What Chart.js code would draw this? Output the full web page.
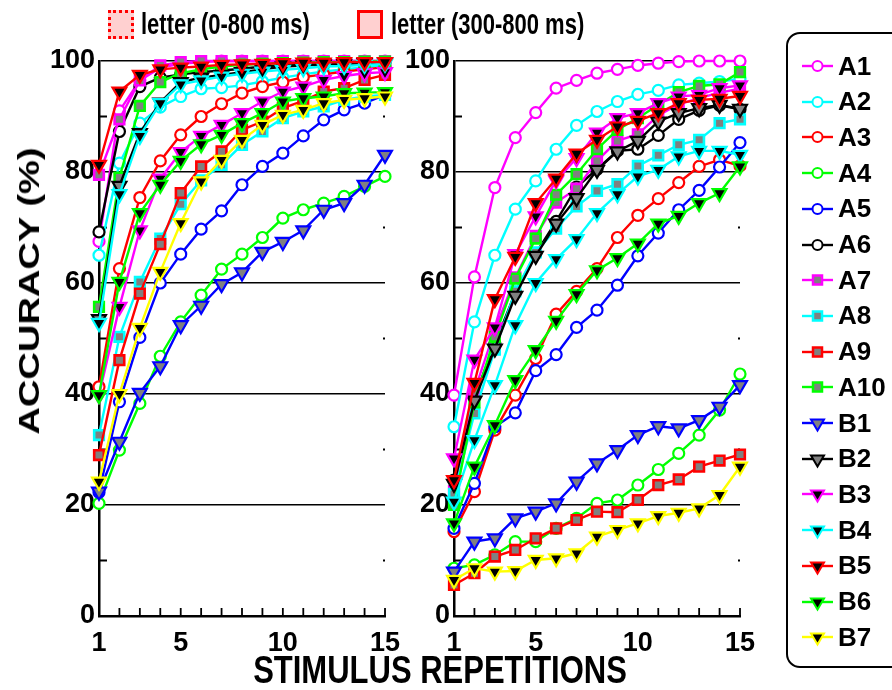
<!DOCTYPE html>
<html>
<head>
<meta charset="utf-8">
<script src="https://cdn.jsdelivr.net/npm/chart.js@4.4.0/dist/chart.umd.min.js"></script>
<style>
body { margin: 0; width: 892px; height: 690px; overflow: hidden; background: #fff; position: relative;
       font-family: "Liberation Sans", Arial, sans-serif; font-weight: bold; color: #000; }
canvas { position: absolute; top: 0; }
#cFull { left: 0; }
#cLate { left: 400px; }
.txt { position: absolute; white-space: nowrap; }
.key { position: absolute; top: 10px; width: 20px; height: 23px; background: #ffd0d0; border: 3px solid #f00; }
.keytxt { top: 10px; font-size: 22px; line-height: 30px; transform: scaleY(1.3); transform-origin: left center; }
#legend { position: absolute; left: 786px; top: 32px; width: 140px; height: 632px; border: 2px solid #000; border-radius: 14px; }
.row { position: absolute; left: 802px; height: 32px; display: flex; align-items: center; font-size: 26px; }
.row svg { margin-right: 5px; }
</style>
</head>
<body>
<canvas id="cFull" width="420" height="690"></canvas>
<canvas id="cLate" width="400" height="690"></canvas>

<div class="key" style="left:108px;border-style:dotted"></div>
<div class="txt keytxt" style="left:141px">letter (0-800 ms)</div>
<div class="key" style="left:357px"></div>
<div class="txt keytxt" style="left:391px">letter (300-800 ms)</div>

<div class="txt" style="left:29px;top:291px;font-size:30px;transform:translate(-50%,-50%) rotate(-90deg) scaleX(1.27)">ACCURACY (%)</div>
<div class="txt" style="left:440px;top:670px;font-size:31px;transform:translate(-50%,-50%) scaleY(1.25)">STIMULUS REPETITIONS</div>

<div id="legend"></div>

<script>
// number of stimulus repetitions
const reps = [1, 2, 3, 4, 5, 6, 7, 8, 9, 10, 11, 12, 13, 14, 15];
const xTicks = [1, 5, 10, 15];
const yTicks = [0, 20, 40, 60, 80, 100];
const yMinor = [10, 30, 50, 70, 90];

// accuracy (%), letter 0-800 ms window
const full_A1  = [67.5, 91, 96.5, 98.8, 99.5, 99.8, 100, 100, 100, 100, 100, 100, 100, 100, 100];
const full_A2  = [65, 81.6, 88.8, 91.7, 93.6, 95, 95.2, 95.6, 96.3, 97, 97.6, 98.1, 98.5, 98.9, 99.2];
const full_A3  = [41.3, 62.6, 75.4, 82, 86.7, 90, 92.3, 94.2, 95.4, 96.2, 97.1, 97.6, 98.1, 98.5, 98.9];
const full_A4  = [20.3, 29.9, 38.3, 46.8, 53, 57.8, 62.5, 65.2, 68.2, 71.7, 73.2, 74.4, 75.6, 77.4, 79.2];
const full_A5  = [22.3, 38.6, 50.2, 60, 65.2, 69.7, 73, 77.7, 81, 83.4, 86.5, 89.4, 91.2, 92.4, 93.9];
const full_A6  = [69.2, 87.3, 95.4, 97, 97.6, 98, 98.3, 98.6, 99, 99.2, 99.4, 99.5, 99.6, 99.7, 99.8];
const full_A7  = [79.5, 89.5, 96.5, 99.2, 99.8, 100, 100, 100, 100, 100, 100, 100, 100, 100, 100];
const full_A8  = [32.6, 50.3, 60.2, 68, 74.2, 78.5, 81.3, 84.9, 87.3, 89.7, 90.9, 91.8, 93, 93.6, 93.9];
const full_A9  = [29, 46.1, 58.1, 67, 76.2, 81, 83.7, 87.6, 89.1, 91.5, 92.8, 94.5, 95.1, 96.6, 97.5];
const full_A10 = [55.7, 79, 91.9, 96.2, 97.8, 98.5, 99, 99.3, 99.5, 99.6, 99.7, 99.8, 99.8, 99.9, 99.9];
const full_B1  = [22.4, 31.4, 40.2, 45, 52.4, 55.9, 59.8, 61.9, 65.6, 67.4, 69.5, 73.2, 74.4, 77.7, 83.1];
const full_B2  = [53.5, 77.5, 87, 92.5, 96.2, 97, 97.5, 98, 98.5, 99, 99.2, 99.4, 99.5, 99.6, 99.7];
const full_B3  = [39.8, 55.7, 69.5, 78.8, 83.6, 86.5, 88.5, 90.6, 92.7, 94.5, 95.4, 96.6, 97.3, 97.8, 98];
const full_B4  = [52.8, 76, 86.5, 92.4, 95.8, 96.5, 97.2, 97.7, 98.1, 98.4, 98.7, 99, 99.1, 99.3, 99.5];
const full_B5  = [81.3, 94.5, 97.5, 98.5, 98.8, 99, 99.3, 99.4, 99.5, 99.6, 99.7, 99.7, 99.8, 99.8, 99.8];
const full_B6  = [39.8, 60.2, 72.6, 77.7, 82, 85, 86.7, 88.8, 90.6, 92.7, 93.3, 93.6, 94.2, 94.3, 94.4];
const full_B7  = [24.2, 40, 51.9, 62, 70.8, 78.3, 82.2, 85.8, 88.5, 90.3, 91.2, 92.4, 93, 93.3, 93.6];

// accuracy (%), letter 300-800 ms window
const late_A1  = [39.8, 61.1, 77.2, 86.2, 90.7, 95.1, 96.5, 97.8, 98.5, 99.2, 99.6, 99.9, 100, 100, 100];
const late_A2  = [34.1, 53, 65, 73.3, 78.4, 84.1, 88.4, 90.9, 92.7, 94, 94.7, 95.7, 96, 96.3, 96.8];
const late_A3  = [15.2, 22.4, 33.5, 39.8, 46.4, 54.4, 58.5, 62.6, 68.2, 72.2, 75.2, 78.1, 81, 82.2, 81.1];
const late_A4  = [8.6, 9.2, 11, 13.4, 13.4, 15.8, 17.6, 20.3, 20.9, 23.6, 26.4, 29.3, 32.6, 37.1, 43.6];
const late_A5  = [15.8, 23.9, 34.1, 36.6, 44.2, 47.1, 52, 55.1, 59.6, 64.9, 69, 73.2, 76.7, 80.9, 85.3];
const late_A6  = [24.5, 39.5, 49, 58.3, 65.3, 71.1, 77.3, 80.5, 83.8, 84.1, 86.6, 89.5, 91.1, 92, 91.3];
const late_A7  = [22.5, 40.5, 51.5, 61, 68.5, 74.5, 77, 82, 85.6, 86.8, 90.2, 92.2, 93.3, 94.3, 95];
const late_A8  = [22, 36.5, 48, 58.5, 65.5, 69.8, 73.8, 76.6, 77.8, 81.1, 83, 84.9, 85.8, 88.8, 89.5];
const late_A9  = [5.6, 7.7, 10.7, 11.9, 14, 15.8, 17.3, 18.8, 18.7, 20.9, 23.6, 24.6, 26.9, 28, 29.1];
const late_A10 = [20, 38.5, 50.3, 60.8, 68, 75.9, 79.6, 84.1, 87.6, 89.7, 92.1, 94.4, 95.5, 95.8, 98];
const late_B1  = [8, 13.4, 14, 17.6, 18.8, 20.3, 24.2, 27.5, 29.9, 32.6, 34.2, 33.8, 35.3, 37.7, 41.6];
const late_B2  = [23.8, 38.8, 48.2, 57.7, 64.9, 70.7, 75.3, 80.4, 83.7, 85.6, 89.1, 90.6, 91.5, 92.1, 91.4];
const late_B3  = [28.4, 46.2, 52, 65.2, 72, 78.5, 82.5, 87.1, 89.7, 90.6, 92.4, 93.6, 93.9, 95.1, 95.6];
const late_B4  = [20.6, 31.7, 41.6, 52.4, 60, 64.3, 67.9, 72.6, 76, 79.2, 80.4, 82.8, 83.8, 83.8, 83.1];
const late_B5  = [24.5, 42, 57.1, 64.7, 74.4, 78.8, 83.3, 85.8, 88.2, 89.2, 90.6, 92.4, 93, 93.2, 93.7];
const late_B6  = [16.7, 26.9, 34.4, 42.5, 47.9, 53.2, 58, 62.3, 64.5, 67.1, 70.7, 72.1, 74.4, 76.2, 81];
const late_B7  = [6.5, 8.6, 8, 8.1, 10.1, 10.4, 11.3, 14.3, 15.5, 16.7, 18, 18.6, 19.4, 21.8, 26.9];

const subjects = ['A1', 'A2', 'A3', 'A4', 'A5', 'A6', 'A7', 'A8', 'A9', 'A10',
                  'B1', 'B2', 'B3', 'B4', 'B5', 'B6', 'B7'];
const fullData = [full_A1, full_A2, full_A3, full_A4, full_A5, full_A6, full_A7, full_A8, full_A9, full_A10,
                  full_B1, full_B2, full_B3, full_B4, full_B5, full_B6, full_B7];
const lateData = [late_A1, late_A2, late_A3, late_A4, late_A5, late_A6, late_A7, late_A8, late_A9, late_A10,
                  late_B1, late_B2, late_B3, late_B4, late_B5, late_B6, late_B7];

// line colour, marker shape, marker fill per subject
const colors = ['#ff00ff', '#00ffff', '#ff0000', '#00ff00', '#0000ff', '#000000', '#ff00ff', '#00ffff', '#ff0000', '#00ff00',
                '#0000ff', '#000000', '#ff00ff', '#00ffff', '#ff0000', '#00ff00', '#ffff00'];
const shapes = ['circle', 'circle', 'circle', 'circle', 'circle', 'circle', 'rect', 'rect', 'rect', 'rect',
                'triangle', 'triangle', 'triangle', 'triangle', 'triangle', 'triangle', 'triangle'];
const fills = ['#fff', '#fff', '#fff', '#fff', '#fff', '#fff', '#808080', '#808080', '#808080', '#808080',
               '#808080', '#808080', '#000', '#000', '#000', '#000', '#000'];

const FONT = '"Liberation Sans", Arial, sans-serif';

const inwardTicks = {
    id: 'inwardTicks',
    beforeDatasetsDraw(chart) {
        const {ctx, chartArea: a, scales: {x, y}} = chart;
        ctx.save();
        ctx.strokeStyle = '#000';
        ctx.lineWidth = 1.8;
        ctx.beginPath();
        reps.forEach(r => {
            const px = x.getPixelForValue(r);
            ctx.moveTo(px, a.bottom);
            ctx.lineTo(px, a.bottom - 8);
        });
        yMinor.forEach(v => {
            const py = y.getPixelForValue(v);
            ctx.moveTo(a.left, py);
            ctx.lineTo(a.left + 8, py);
            ctx.moveTo(a.right, py);
            ctx.lineTo(a.right - 2, py);
        });
        ctx.stroke();
        ctx.restore();
    }
};

function pointSize(shape) {
    if (shape === 'circle') return 5.5;
    if (shape === 'rect') return 6.8;
    return 8;
}

function buildChart(id, values, axisWidth, padRight) {
    const datasets = subjects.map((name, i) => ({
        label: name,
        data: reps.map((r, k) => ({x: r, y: values[i][k]})),
        borderColor: colors[i],
        borderWidth: 2.4,
        pointStyle: shapes[i],
        pointRotation: shapes[i] === 'triangle' ? 180 : 0,
        pointRadius: pointSize(shapes[i]),
        pointBorderWidth: shapes[i] === 'rect' ? 2.6 : 2.2,
        pointBorderColor: colors[i],
        pointBackgroundColor: fills[i],
        tension: 0,
        fill: false,
        clip: false,
        order: subjects.length - i
    }));
    return new Chart(document.getElementById(id), {
        type: 'line',
        data: {datasets},
        plugins: [inwardTicks],
        options: {
            responsive: false,
            animation: false,
            devicePixelRatio: 1,
            layout: {padding: {top: 61, right: padRight, left: 0, bottom: 0}},
            plugins: {legend: {display: false}, tooltip: {enabled: false}},
            scales: {
                x: {
                    type: 'linear', min: 1, max: 15,
                    afterBuildTicks: s => { s.ticks = xTicks.map(v => ({value: v})); },
                    afterFit: s => { s.height = 74; },
                    grid: {display: false, drawTicks: false},
                    border: {display: true, color: '#000', width: 2.5},
                    ticks: {color: '#000', font: {family: FONT, size: 27, weight: 'bold'}, padding: 11,
                            maxRotation: 0, autoSkip: false}
                },
                y: {
                    min: 0, max: 100,
                    afterBuildTicks: s => { s.ticks = yTicks.map(v => ({value: v})); },
                    afterFit: s => { s.width = axisWidth; },
                    grid: {color: c => (c.tick && c.tick.value > 0) ? '#000' : 'rgba(0,0,0,0)', lineWidth: 1.5, drawTicks: false},
                    border: {display: true, color: '#000', width: 2.5},
                    ticks: {color: '#000', font: {family: FONT, size: 27, weight: 'bold'}, padding: 4}
                }
            }
        }
    });
}

buildChart('cFull', fullData, 99, 35);
buildChart('cLate', lateData, 54, 60);

// legend on the right
function markerSvg(i) {
    const c = colors[i];
    let m;
    if (shapes[i] === 'circle') {
        m = `<circle cx="15.5" cy="10" r="5" fill="#fff" stroke="${c}" stroke-width="2"/>`;
    } else if (shapes[i] === 'rect') {
        m = `<rect x="11" y="5.5" width="9" height="9" fill="#808080" stroke="${c}" stroke-width="2.5"/>`;
    } else {
        m = `<polygon points="9,6.5 22,6.5 15.5,17.5" fill="${fills[i]}" stroke="${c}" stroke-width="2"/>`;
    }
    return `<svg width="31" height="20"><line x1="0" y1="10" x2="31" y2="10" stroke="${c}" stroke-width="2.4"/>${m}</svg>`;
}

subjects.forEach((name, i) => {
    const row = document.createElement('div');
    row.className = 'row';
    row.style.top = (66 + i * 35.7 - 16) + 'px';
    row.innerHTML = markerSvg(i) + '<span>' + name + '</span>';
    document.body.appendChild(row);
});
</script>
</body>
</html>
